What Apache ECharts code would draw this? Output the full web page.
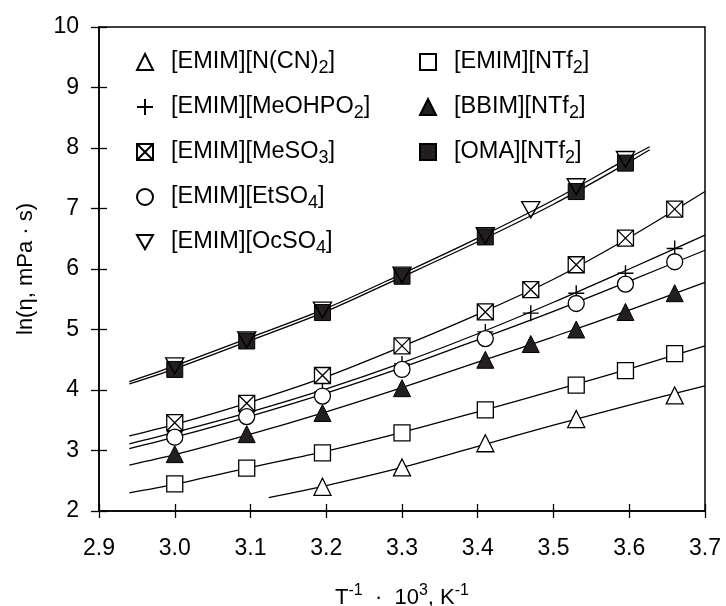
<!DOCTYPE html>
<html>
<head>
<meta charset="utf-8">
<script src="https://cdn.jsdelivr.net/npm/echarts@6/dist/echarts.min.js"></script>
<style>
  html, body { margin: 0; padding: 0; background: #fff; }
  #chart { width: 726px; height: 606px; }
</style>
</head>
<body>
<div id="chart"></div>
<script>
// measured points, x = 1000/T
const xTicks = [2.9, 3.0, 3.1, 3.2, 3.3, 3.4, 3.5, 3.6, 3.7]

const ncnX = [3.195, 3.30, 3.41, 3.53, 3.66]
const ncnY = [2.40, 2.72, 3.12, 3.52, 3.91]

const ntf2X = [3.0, 3.095, 3.195, 3.30, 3.41, 3.53, 3.595, 3.66]
const ntf2Y = [2.45, 2.71, 2.96, 3.29, 3.67, 4.08, 4.32, 4.60]

const meohX = [3.0, 3.095, 3.195, 3.30, 3.41, 3.47, 3.53, 3.595, 3.66]
const meohY = [3.31, 3.64, 3.97, 4.43, 4.96, 5.27, 5.60, 5.93, 6.34]

const bbimX = [3.0, 3.095, 3.195, 3.30, 3.41, 3.47, 3.53, 3.595, 3.66]
const bbimY = [2.94, 3.27, 3.62, 4.03, 4.50, 4.76, 5.00, 5.29, 5.60]

const meso3X = [3.0, 3.095, 3.195, 3.30, 3.41, 3.47, 3.53, 3.595, 3.66]
const meso3Y = [3.46, 3.78, 4.24, 4.73, 5.29, 5.66, 6.07, 6.51, 6.99]

const omaX = [3.0, 3.095, 3.195, 3.30, 3.41, 3.53, 3.595]
const omaY = [4.34, 4.81, 5.28, 5.88, 6.53, 7.28, 7.75]

const etso4X = [3.0, 3.095, 3.195, 3.30, 3.41, 3.53, 3.595, 3.66]
const etso4Y = [3.22, 3.56, 3.90, 4.34, 4.85, 5.43, 5.75, 6.12]

const ocso4X = [3.0, 3.095, 3.195, 3.30, 3.41, 3.47, 3.53, 3.595]
const ocso4Y = [4.40, 4.83, 5.32, 5.90, 6.55, 6.98, 7.36, 7.81]

// fitted curves
const fitNcn = [[3.124, 2.22], [3.2, 2.42], [3.3, 2.72], [3.4, 3.07], [3.5, 3.42], [3.6, 3.75], [3.7, 4.07]]
const fitNtf2 = [[2.94, 2.30], [3.0, 2.44], [3.1, 2.72], [3.2, 2.99], [3.3, 3.30], [3.4, 3.64], [3.5, 3.99], [3.6, 4.35], [3.7, 4.73]]
const fitMeoh = [[2.94, 3.11], [3.0, 3.30], [3.1, 3.64], [3.2, 4.02], [3.3, 4.45], [3.4, 4.93], [3.5, 5.45], [3.6, 6.00], [3.7, 6.56]]
const fitBbim = [[2.94, 2.76], [3.0, 2.93], [3.1, 3.27], [3.2, 3.64], [3.3, 4.04], [3.4, 4.46], [3.5, 4.88], [3.6, 5.32], [3.7, 5.78]]
const fitMeso3 = [[2.94, 3.24], [3.0, 3.43], [3.1, 3.80], [3.2, 4.22], [3.3, 4.72], [3.4, 5.25], [3.5, 5.83], [3.6, 6.52], [3.7, 7.28]]
const fitOma = [[2.94, 4.10], [3.0, 4.35], [3.1, 4.82], [3.2, 5.30], [3.3, 5.87], [3.4, 6.45], [3.5, 7.07], [3.6, 7.77], [3.627, 7.97]]
const fitEtso4 = [[2.94, 3.03], [3.0, 3.22], [3.1, 3.57], [3.2, 3.95], [3.3, 4.37], [3.4, 4.83], [3.5, 5.30], [3.6, 5.80], [3.7, 6.31]]
const fitOcso4 = [[2.94, 4.14], [3.0, 4.40], [3.1, 4.87], [3.2, 5.35], [3.3, 5.92], [3.4, 6.51], [3.5, 7.14], [3.6, 7.84], [3.627, 8.02]]

const names1 = ['[EMIM][N(CN)2]', '[EMIM][MeOHPO2]', '[EMIM][MeSO3]', '[EMIM][EtSO4]', '[EMIM][OcSO4]']
const names2 = ['[EMIM][NTf2]', '[BBIM][NTf2]', '[OMA][NTf2]']

const FONT = 'Liberation Sans, Arial, sans-serif'
const pairs = (xs, ys) => xs.map((x, i) => [x, ys[i]])

const crossSquare = 'path://M0,0L16,0L16,16L0,16ZM0,0L16,16M16,0L0,16'
const plus = 'path://M8,0L8,16M0,8L16,8'
const downTri = 'path://M0,0L18,0L9,16Z'

const open = { color: '#fff', borderColor: '#000', borderWidth: 1.3, opacity: 1 }
const filled = { color: '#231f20', borderColor: '#000', borderWidth: 1, opacity: 1 }
const hollow = { color: 'transparent', borderColor: '#000', borderWidth: 1.4, opacity: 1 }

const scatter = (name, xs, ys, symbol, size, style) => ({
  name, type: 'scatter', data: pairs(xs, ys), symbol, symbolSize: size,
  itemStyle: style, z: 3
})
const fit = data => ({
  type: 'line', data, showSymbol: false, smooth: 0.3, silent: true,
  lineStyle: { color: '#000', width: 1.3 }, z: 2
})

// subscript digits in legend names
const subFmt = n => n.replace(/(\d)\]$/, '{s|$1}]')

const legendBase = {
  orient: 'vertical', itemWidth: 16, itemHeight: 16, itemGap: 15,
  formatter: subFmt, selectedMode: false,
  textStyle: {
    fontFamily: FONT, fontSize: 23.5, color: '#000', lineHeight: 30, padding: [0, 0, 0, 13],
    rich: { s: { fontFamily: FONT, fontSize: 18, lineHeight: 16, verticalAlign: 'bottom', color: '#000' } }
  }
}

const chart = echarts.init(document.getElementById('chart'))
chart.setOption({
  backgroundColor: '#fff',
  animation: false,
  grid: {
    left: 99, right: 21, top: 27, bottom: 95, outerBoundsMode: 'none',
    show: true, borderColor: '#000', borderWidth: 1.5
  },
  legend: [
    Object.assign({}, legendBase, { left: 131, top: 42, data: names1 }),
    Object.assign({}, legendBase, { left: 414, top: 42, data: names2 })
  ],
  xAxis: [
    {
      type: 'value', min: 2.9, max: 3.7, interval: 0.1,
      name: 'T{p|-1}  ·  10{p|3}, K{p|-1}', nameLocation: 'middle', nameGap: 72,
      nameTextStyle: {
        fontFamily: FONT, fontSize: 22, color: '#000', lineHeight: 30,
        rich: { p: { fontFamily: FONT, fontSize: 16, lineHeight: 16, verticalAlign: 'top', color: '#000' } }
      },
      axisLine: { lineStyle: { color: '#000', width: 1.5 } },
      axisTick: { length: 7, lineStyle: { color: '#000', width: 1.3 } },
      axisLabel: { fontFamily: FONT, fontSize: 23, color: '#000', margin: 26, formatter: v => v.toFixed(1) },
      splitLine: { show: false }
    },
    {
      type: 'value', min: 2.9, max: 3.7, interval: 0.1, position: 'bottom',
      axisLine: { show: false }, axisLabel: { show: false }, splitLine: { show: false },
      axisTick: { inside: true, length: 7, lineStyle: { color: '#000', width: 1.3 } }
    }
  ],
  yAxis: [
    {
      type: 'value', min: 2, max: 10, interval: 1,
      name: 'ln(η, mPa · s)', nameLocation: 'middle', nameGap: 62,
      nameTextStyle: { fontFamily: FONT, fontSize: 22, color: '#000' },
      axisLine: { lineStyle: { color: '#000', width: 1.5 } },
      axisTick: { length: 8, lineStyle: { color: '#000', width: 1.3 } },
      axisLabel: { fontFamily: FONT, fontSize: 23, color: '#000', margin: 20 },
      splitLine: { show: false }
    },
    {
      type: 'value', min: 2, max: 10, interval: 1, position: 'left',
      axisLine: { show: false }, axisLabel: { show: false }, splitLine: { show: false },
      axisTick: { inside: true, length: 8, lineStyle: { color: '#000', width: 1.3 } }
    }
  ],
  series: [
    fit(fitNcn), fit(fitNtf2), fit(fitMeoh), fit(fitBbim),
    fit(fitMeso3), fit(fitOma), fit(fitEtso4), fit(fitOcso4),
    scatter(names1[0], ncnX, ncnY, 'triangle', 17, open),
    scatter(names2[0], ntf2X, ntf2Y, 'rect', 16, open),
    scatter(names1[1], meohX, meohY, plus, 16, hollow),
    scatter(names2[1], bbimX, bbimY, 'triangle', 17, filled),
    scatter(names1[2], meso3X, meso3Y, crossSquare, 16, open),
    scatter(names2[2], omaX, omaY, 'rect', 16, filled),
    scatter(names1[3], etso4X, etso4Y, 'circle', 16, open),
    scatter(names1[4], ocso4X, ocso4Y, downTri, [18, 16], hollow)
  ]
})
</script>
</body>
</html>
